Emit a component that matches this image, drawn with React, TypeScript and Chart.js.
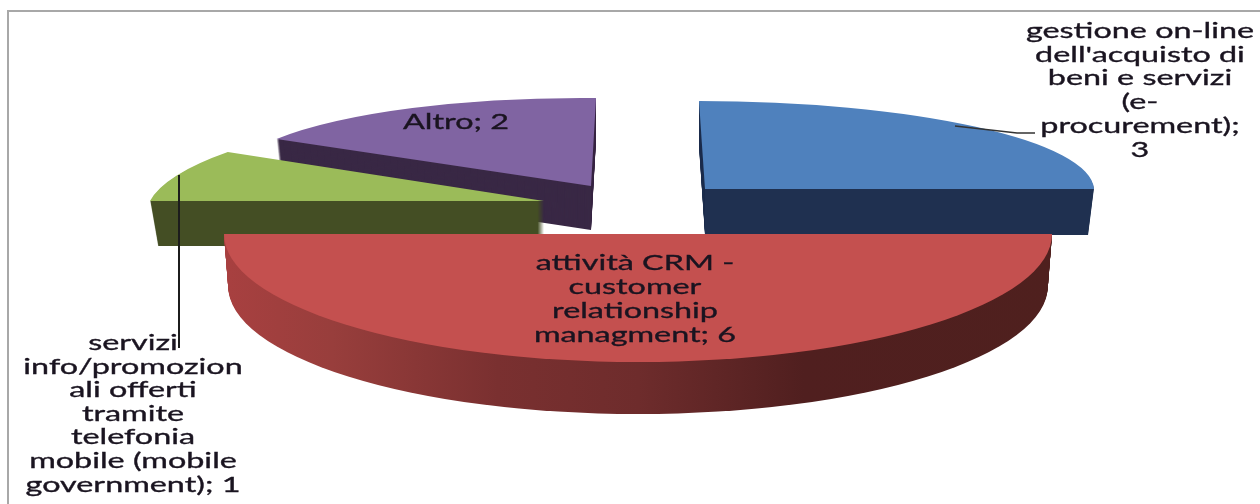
import React, { useEffect, useRef } from "react";
import Chart from "chart.js/auto";

// Slices in clockwise order, starting from twelve o'clock.
const categories = [
  "gestione on-line dell'acquisto di beni e servizi (e-procurement)",
  "attività CRM - customer relationship managment",
  "servizi info/promozionali offerti tramite telefonia mobile (mobile government)",
  "Altro",
];
const values = [3, 6, 1, 2];

// Wrapped data labels, each closing on the slice's value.
const labelLines = [
  ["gestione on-line", "dell'acquisto di", "beni e servizi", "(e-", "procurement);", `${values[0]}`],
  ["attività CRM -", "customer", "relationship", `managment; ${values[1]}`],
  ["servizi", "info/promozion", "ali offerti", "tramite", "telefonia", "mobile (mobile", `government); ${values[2]}`],
  [`Altro; ${values[3]}`],
];

const topColors = ["#4F81BD", "#C4504F", "#9BBB59", "#8064A2"];
const wallColors = ["#1F3050", "", "#444E24", "#392845"];

const WIDTH = 1260;
const HEIGHT = 504;

// How each exploded slice is projected: pivot (px, py), unit-circle axes
// (ax, ay) and (bx, by), extrusion depth and how much the far rim narrows.
const projection = [
  { px: 705, py: 189, ax: 389, ay: 0, bx: 6, by: 88, depth: 46, shrink: 0.985 },
  { px: 638, py: 234, ax: 414, ay: 0, bx: 0, by: 128, depth: 52, shrink: 0.99 },
  { px: 544, py: 201, ax: 394, ay: 0, bx: -50, by: 98, depth: 45, shrink: 0.98 },
  { px: 591, py: 186, ax: 366, ay: 3.5, bx: -5, by: 88, depth: 44, shrink: 0.985 },
];
// Back slices first so the front half overlaps them.
const paintOrder = [3, 2, 0, 1];

const labelLayout = [
  { cx: 1140, top: 31, pitch: 23.7 },
  { cx: 635, top: 263, pitch: 24 },
  { cx: 133, top: 343, pitch: 23.6 },
  { cx: 456, top: 122, pitch: 24 },
];

const FONT = "22px Lato";
const STRETCH = 1.47;

const rimStops: [number, string][] = [
  [0, "#A84040"],
  [0.13, "#983E3C"],
  [0.33, "#7A3030"],
  [0.5, "#6E2C2C"],
  [0.7, "#501F1F"],
  [1, "#4F201E"],
];

function applyProjection(ctx: CanvasRenderingContext2D, arc: any, p: any, drop: number, narrow: number) {
  const R = arc.outerRadius;
  ctx.transform(
    (p.ax * narrow) / R,
    (p.ay * narrow) / R,
    (p.bx * narrow) / R,
    p.by / R,
    p.px,
    p.py + drop,
  );
  ctx.translate(-arc.x, -arc.y);
}

const pie3d = {
  id: "pie3d",
  beforeDraw(chart: any) {
    const { ctx } = chart;
    ctx.save();
    ctx.strokeStyle = "#A8A8A8";
    ctx.lineWidth = 2;
    ctx.beginPath();
    ctx.moveTo(8, HEIGHT);
    ctx.lineTo(8, 11);
    ctx.lineTo(WIDTH, 11);
    ctx.stroke();
    ctx.restore();
  },
  beforeDatasetsDraw(chart: any) {
    const { ctx } = chart;
    const arcs = chart.getDatasetMeta(0).data;
    const rim = ctx.createLinearGradient(225, 0, 1052, 0);
    rimStops.forEach(([at, color]) => rim.addColorStop(at, color));

    for (const i of paintOrder) {
      const arc = arcs[i];
      const p = projection[i];
      const { x, y, startAngle, endAngle, outerRadius } = arc.getProps(
        ["x", "y", "startAngle", "endAngle", "outerRadius"],
        true,
      );
      // Side walls: the slice outline repeated from the far rim upward.
      for (let k = p.depth; k >= 1; k--) {
        const narrow = 1 - ((1 - p.shrink) * k) / p.depth;
        ctx.save();
        applyProjection(ctx, arc, p, k, narrow);
        ctx.beginPath();
        ctx.moveTo(x, y);
        ctx.arc(x, y, outerRadius, startAngle, endAngle);
        ctx.closePath();
        ctx.restore();
        ctx.fillStyle = wallColors[i] || rim;
        ctx.fill();
      }
      // Top face.
      ctx.save();
      applyProjection(ctx, arc, p, 0, 1);
      arc.draw(ctx, chart.chartArea);
      ctx.restore();
    }
    return false;
  },
  afterDraw(chart: any) {
    const { ctx } = chart;
    ctx.save();
    // Leader lines of the two outside labels.
    ctx.strokeStyle = "#1c1c1c";
    ctx.lineWidth = 2;
    ctx.beginPath();
    ctx.moveTo(179, 175);
    ctx.lineTo(179, 348);
    ctx.stroke();
    ctx.strokeStyle = "#333333";
    ctx.lineWidth = 1.5;
    ctx.beginPath();
    ctx.moveTo(955, 126);
    ctx.lineTo(1017, 133);
    ctx.lineTo(1035, 133);
    ctx.stroke();

    // Labels are widened horizontally and given a hairline for extra weight.
    ctx.fillStyle = "#1A1420";
    ctx.strokeStyle = "#1A1420";
    ctx.lineWidth = 0.35;
    ctx.font = FONT;
    ctx.textAlign = "center";
    ctx.textBaseline = "middle";
    labelLines.forEach((lines, i) => {
      const l = labelLayout[i];
      lines.forEach((line, n) => {
        ctx.save();
        ctx.translate(l.cx, l.top + n * l.pitch);
        ctx.scale(STRETCH, 1);
        ctx.fillText(line, 0, 0);
        ctx.strokeText(line, 0, 0);
        ctx.restore();
      });
    });
    ctx.restore();
  },
};

export default function App() {
  const ref = useRef<HTMLCanvasElement>(null);
  useEffect(() => {
    const chart = new Chart(ref.current!, {
      type: "pie",
      data: {
        labels: categories,
        datasets: [{ data: values, backgroundColor: topColors, borderWidth: 0 }],
      },
      options: {
        animation: false,
        responsive: false,
        plugins: { legend: { display: false }, tooltip: { enabled: false } },
      },
      plugins: [pie3d],
    });
    return () => chart.destroy();
  }, []);
  return (
    <div style={{ position: "fixed", left: 0, top: 0, width: WIDTH, height: HEIGHT, background: "#fff" }}>
      <canvas ref={ref} width={WIDTH} height={HEIGHT} style={{ display: "block" }} />
    </div>
  );
}
